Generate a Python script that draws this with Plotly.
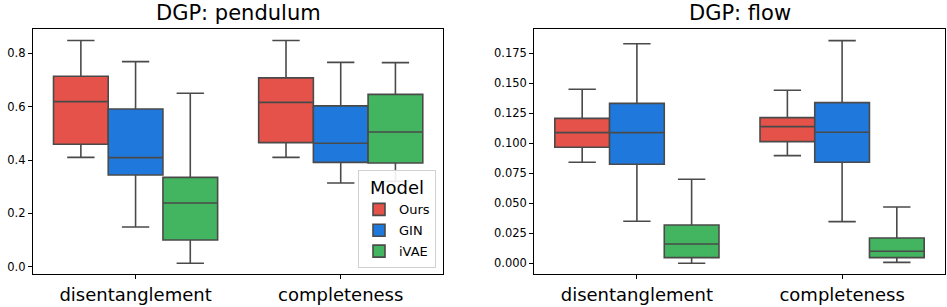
import plotly.graph_objects as go

categories = ["disentanglement", "completeness"]
models = ["Ours", "GIN", "iVAE"]
colors = {"Ours": "#E5524A", "GIN": "#1F78DC", "iVAE": "#43B45F"}

# pendulum: [disentanglement, completeness]
pend = {
    "Ours": dict(lo=[0.410, 0.410], q1=[0.459, 0.465], med=[0.619, 0.616], q3=[0.714, 0.708], hi=[0.848, 0.848]),
    "GIN":  dict(lo=[0.149, 0.314], q1=[0.344, 0.391], med=[0.409, 0.463], q3=[0.591, 0.603], hi=[0.769, 0.766]),
    "iVAE": dict(lo=[0.013, 0.320], q1=[0.100, 0.389], med=[0.239, 0.505], q3=[0.335, 0.646], hi=[0.650, 0.765]),
}
# flow
flow = {
    "Ours": dict(lo=[0.0842, 0.0897], q1=[0.0967, 0.1014], med=[0.1089, 0.1139], q3=[0.1208, 0.1214], hi=[0.1450, 0.1442]),
    "GIN":  dict(lo=[0.0350, 0.0347], q1=[0.0825, 0.0842], med=[0.1089, 0.1092], q3=[0.1333, 0.1339], hi=[0.1830, 0.1856]),
    "iVAE": dict(lo=[0.0000, 0.0008], q1=[0.0047, 0.0047], med=[0.0161, 0.0100], q3=[0.0319, 0.0211], hi=[0.0700, 0.0469]),
}

edge = "#4a4a4a"
fig = go.Figure()
for data, xa, ya, show in [(pend, "x", "y", True), (flow, "x2", "y2", False)]:
    for m in models:
        d = data[m]
        fig.add_trace(go.Box(
            x=categories, q1=d["q1"], median=d["med"], q3=d["q3"],
            lowerfence=d["lo"], upperfence=d["hi"],
            name=m, legendgroup=m, showlegend=show,
            fillcolor=colors[m], line=dict(color=edge, width=1.6),
            whiskerwidth=0.5, boxpoints=False, offsetgroup=m,
            xaxis=xa, yaxis=ya, hoverinfo="skip",
        ))

font = "DejaVu Sans, sans-serif"
ydom = [1 - 274.3 / 307, 1 - 29.3 / 307]
axis_common = dict(showline=True, mirror=True, linecolor="black", linewidth=1.2,
                   ticks="outside", ticklen=4, tickcolor="black", showgrid=False,
                   zeroline=False, automargin=False)
fig.update_layout(
    width=947, height=307,
    margin=dict(l=0, r=0, t=0, b=0, autoexpand=False),
    paper_bgcolor="white", plot_bgcolor="white",
    boxmode="group", boxgap=0.2, boxgroupgap=0,
    font=dict(family=font, color="black"),
    xaxis=dict(domain=[33 / 947, 443.3 / 947], range=[-0.5, 1.5], categoryorder="array",
               categoryarray=categories, tickfont=dict(size=18), anchor="y", **axis_common),
    yaxis=dict(domain=ydom, range=[-0.0285, 0.890], dtick=0.2, tick0=0, tickformat=".1f",
               tickfont=dict(size=11.5), anchor="x", **axis_common),
    xaxis2=dict(domain=[534.3 / 947, 944.7 / 947], range=[-0.5, 1.5], categoryorder="array",
                categoryarray=categories, tickfont=dict(size=18), anchor="y2", **axis_common),
    yaxis2=dict(domain=ydom, range=[-0.00917, 0.195], dtick=0.025, tick0=0, tickformat=".3f",
                tickfont=dict(size=11.5), anchor="x2", **axis_common),
    legend=dict(x=436 / 947, y=1 - 268 / 307, xanchor="right", yanchor="bottom",
                bgcolor="rgba(255,255,255,0.9)", bordercolor="#d0d0d0", borderwidth=1,
                font=dict(size=13), title=dict(text="Model", font=dict(size=18), side="top center"),
                itemwidth=30, tracegroupgap=1),
    annotations=[
        dict(text="DGP: pendulum", x=(33 + 443.3) / 2 / 947, y=1 - 13 / 307, xref="paper", yref="paper",
             xanchor="center", yanchor="middle", showarrow=False, font=dict(size=21)),
        dict(text="DGP: flow", x=(534.3 + 944.7) / 2 / 947, y=1 - 13 / 307, xref="paper", yref="paper",
             xanchor="center", yanchor="middle", showarrow=False, font=dict(size=21)),
    ],
)
fig.write_html("out.html", config={"displayModeBar": False},
               post_script="document.body.style.margin='0';document.body.style.overflow='hidden';")
